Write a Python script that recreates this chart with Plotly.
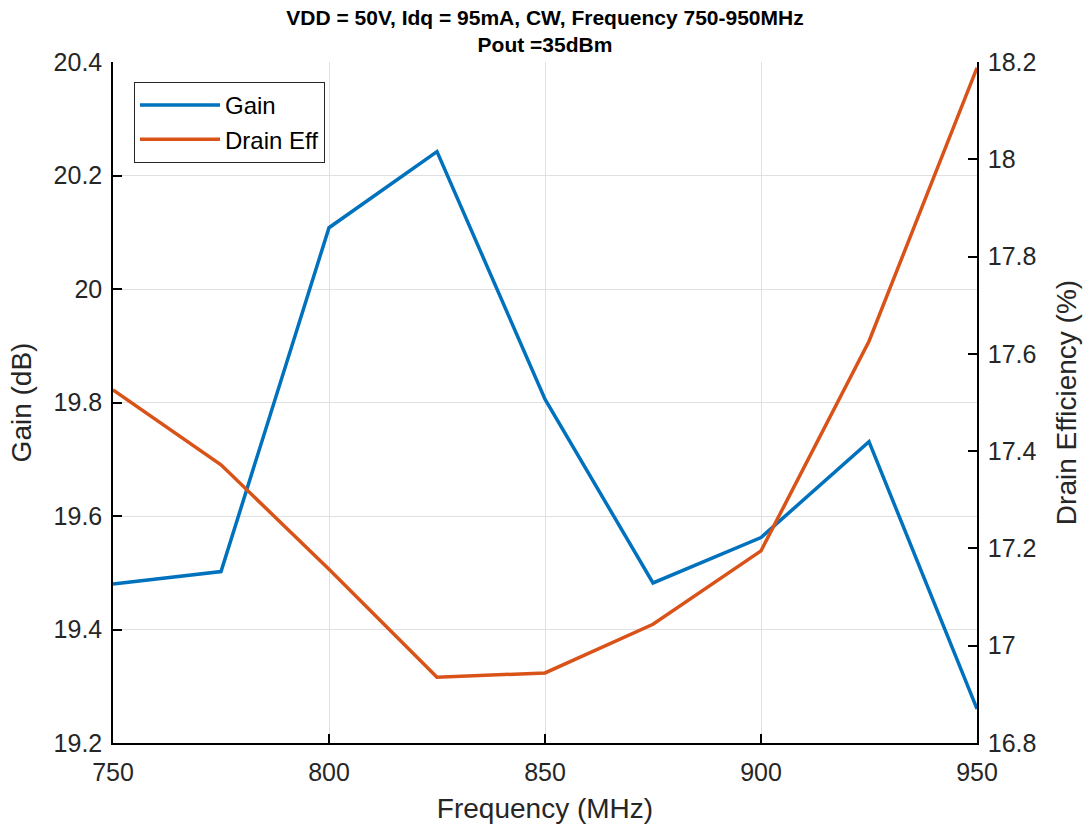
import plotly.graph_objects as go

freq = [750, 775, 800, 825, 850, 875, 900, 925, 950]
gain = [19.480, 19.502, 20.108, 20.242, 19.806, 19.482, 19.562, 19.731, 19.260]
drain_eff = [17.526, 17.372, 17.157, 16.935, 16.944, 17.044, 17.195, 17.626, 18.188]

x_ticks = [750, 800, 850, 900, 950]
gain_ticks = [19.2, 19.4, 19.6, 19.8, 20.0, 20.2, 20.4]
gain_tick_text = ["19.2", "19.4", "19.6", "19.8", "20", "20.2", "20.4"]
eff_ticks = [16.8, 17.0, 17.2, 17.4, 17.6, 17.8, 18.0, 18.2]
eff_tick_text = ["16.8", "17", "17.2", "17.4", "17.6", "17.8", "18", "18.2"]

BLUE = "#0072BD"
ORANGE = "#D95319"
FONT = "Liberation Sans, Arial, sans-serif"
TXT = "#262626"

W, H = 1090, 831

fig = go.Figure()
fig.add_trace(go.Scatter(x=freq, y=gain, mode="lines", name="Gain",
                         line=dict(color=BLUE, width=3.5)))
fig.add_trace(go.Scatter(x=freq, y=drain_eff, mode="lines", name="Drain Eff",
                         line=dict(color=ORANGE, width=3.5), yaxis="y2"))

axis_common = dict(showline=True, linecolor="black", linewidth=1.5,
                   ticks="inside", ticklen=9, tickwidth=1.5, tickcolor="black",
                   tickfont=dict(family=FONT, size=25, color=TXT),
                   zeroline=False)
title_font = dict(family=FONT, size=28, color=TXT)

fig.update_layout(
    width=W, height=H,
    margin=dict(l=113, r=113, t=62, b=86),
    paper_bgcolor="white", plot_bgcolor="white",
    font=dict(family=FONT, color=TXT),
    title=dict(text="<b>VDD = 50V, Idq = 95mA, CW, Frequency 750-950MHz<br>Pout =35dBm</b>",
               x=0.5, xanchor="center", yref="container", y=1 - 25 / H, yanchor="top",
               font=dict(family=FONT, size=21, color="black")),
    xaxis=dict(range=[750, 950], tickvals=x_ticks, showgrid=True,
               gridcolor="#e0e0e0", gridwidth=1, ticklabelstandoff=6,
               title=dict(text="Frequency (MHz)", font=title_font, standoff=14),
               **axis_common),
    yaxis=dict(range=[19.2, 20.4], tickvals=gain_ticks, ticktext=gain_tick_text,
               showgrid=True, gridcolor="#e0e0e0", gridwidth=1, ticklabelstandoff=4,
               title=dict(text="Gain (dB)", font=title_font, standoff=14),
               **axis_common),
    yaxis2=dict(range=[16.8, 18.2], tickvals=eff_ticks, ticktext=eff_tick_text,
                overlaying="y", side="right", showgrid=False, ticklabelstandoff=4,
                title=dict(text="Drain Efficiency (%)", font=title_font, standoff=21),
                **axis_common),
    legend=dict(x=0.0243, y=0.9707, xanchor="left", yanchor="top",
                bgcolor="white", bordercolor=TXT, borderwidth=1,
                font=dict(family=FONT, size=24, color="black"),
                itemwidth=80, tracegroupgap=0),
    showlegend=True,
)

fig.write_html("out.html",
               config={"displayModeBar": False},
               post_script="document.body.style.margin='0';document.body.style.overflow='hidden';")
